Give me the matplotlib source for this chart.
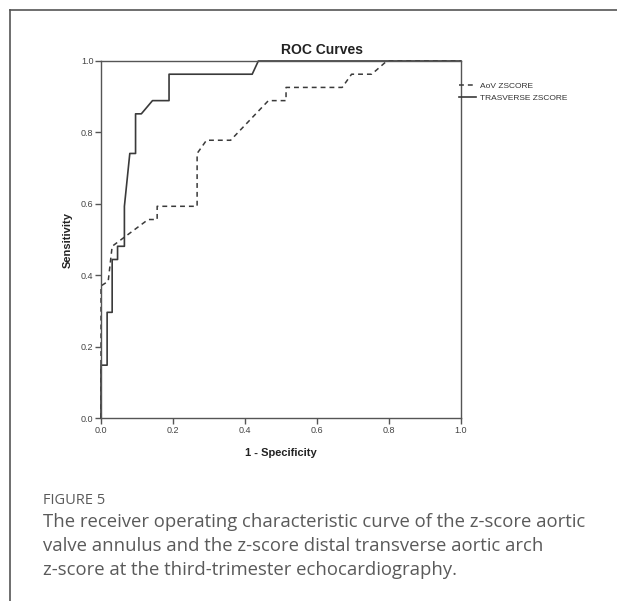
import matplotlib
matplotlib.use("Agg")
import matplotlib.pyplot as plt
from matplotlib.lines import Line2D

# ROC points (1 - specificity, sensitivity)
aov_fpr = [0, 0, 0.020, 0.031, 0.067, 0.131, 0.156, 0.156, 0.267, 0.267,
           0.293, 0.360, 0.465, 0.514, 0.514, 0.670, 0.696, 0.752, 0.794, 1.0]
aov_tpr = [0, 0.370, 0.383, 0.481, 0.508, 0.556, 0.556, 0.593, 0.593, 0.741,
           0.778, 0.778, 0.889, 0.889, 0.926, 0.926, 0.963, 0.963, 1.0, 1.0]

tra_fpr = [0, 0, 0.017, 0.017, 0.031, 0.031, 0.046, 0.046, 0.065, 0.065,
           0.080, 0.096, 0.096, 0.112, 0.143, 0.189, 0.189, 0.420, 0.437, 1.0]
tra_tpr = [0, 0.148, 0.148, 0.296, 0.296, 0.444, 0.444, 0.481, 0.481, 0.593,
           0.741, 0.741, 0.852, 0.852, 0.889, 0.889, 0.963, 0.963, 1.0, 1.0]

ticks = [0.0, 0.2, 0.4, 0.6, 0.8, 1.0]
tick_labels = ["0.0", "0.2", "0.4", "0.6", "0.8", "1.0"]

caption_head = "FIGURE 5"
caption_lines = ["The receiver operating characteristic curve of the z-score aortic",
                 "valve annulus and the z-score distal transverse aortic arch",
                 "z-score at the third-trimester echocardiography."]

W, H = 617, 601
fig = plt.figure(figsize=(W / 100, H / 100), dpi=100)
fig.patch.set_facecolor("white")

# axes placed in pixel terms
ax = fig.add_axes([101 / W, 1 - 418 / H, 360 / W, 357 / H])
lc = "#3a3a3a"
ax.plot(aov_fpr, aov_tpr, color=lc, lw=1.1, ls=(0, (3.2, 2.6)), label="AoV ZSCORE",
        clip_on=False)
ax.plot(tra_fpr, tra_tpr, color=lc, lw=1.2, label="TRASVERSE ZSCORE", clip_on=False)
ax.set_xlim(0, 1)
ax.set_ylim(0, 1)
for s in ax.spines.values():
    s.set_color("#555555")
    s.set_linewidth(1.0)
ax.set_xticks(ticks)
ax.set_xticklabels(tick_labels)
ax.set_yticks(ticks)
ax.set_yticklabels(tick_labels)
ax.tick_params(direction="out", length=4, width=1, color="#555555",
               labelsize=6.5, labelcolor="#444444", pad=1.5)
for lab in ax.get_xticklabels() + ax.get_yticklabels():
    lab.set_family("Liberation Sans")

fig.text(68 / W, 1 - 240 / H, "Sensitivity", rotation=90, ha="center", va="center",
         fontsize=8, fontweight="bold", family="Liberation Sans", color="#222222")
fig.text(281 / W, 1 - 453 / H, "1 - Specificity", ha="center", va="center",
         fontsize=8, fontweight="bold", family="Liberation Sans", color="#222222")
fig.text(322 / W, 1 - 50 / H, "ROC Curves", ha="center", va="center",
         fontsize=10, fontweight="bold", family="Liberation Sans", color="#222222")

leg = fig.legend(loc="upper left", bbox_to_anchor=(459 / W, 1 - 82 / H), frameon=False,
                 prop={"family": "Liberation Sans", "size": 6},
                 handlelength=2.0, handletextpad=0.5, labelspacing=0.5,
                 borderpad=0, borderaxespad=0)
for t in leg.get_texts():
    t.set_color("#333333")

# box border of the panel (top and left only are in view)
fig.add_artist(Line2D([10 / W, 1], [1 - 10 / H, 1 - 10 / H], color="#555555", lw=1.2))
fig.add_artist(Line2D([10 / W, 10 / W], [1 - 10 / H, 0], color="#555555", lw=1.2))

fig.text(43 / W, 1 - 500 / H, caption_head, ha="left", va="center",
         fontsize=10.5, family="Open Sans", color="#5a5a5a")
for i, line in enumerate(caption_lines):
    fig.text(43 / W, 1 - (522 + 24 * i) / H, line, ha="left", va="center",
             fontsize=13.35, family="Open Sans", color="#5a5a5a")

fig.savefig("out.png", dpi=100)
